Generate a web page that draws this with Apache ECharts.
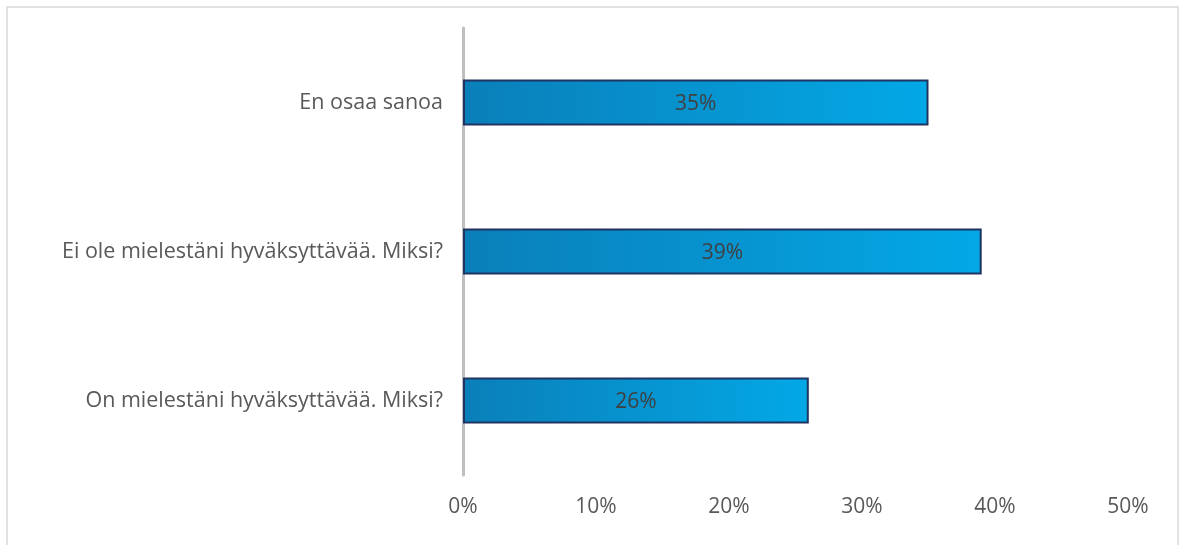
<!DOCTYPE html>
<html>
<head>
<meta charset="utf-8">
<script src="https://cdn.jsdelivr.net/npm/echarts@6/dist/echarts.min.js"></script>
<style>
  html, body { margin: 0; padding: 0; background: #fff; }
  #main { width: 1184px; height: 545px; }
</style>
</head>
<body>
<div id="main"></div>
<script>
// categories listed bottom to top
var categories = [
  'On mielestäni hyväksyttävää. Miksi?',
  'Ei ole mielestäni hyväksyttävää. Miksi?',
  'En osaa sanoa'
];
var shares = [26, 39, 35];
var tickValues = [0, 10, 20, 30, 40, 50];

var myChart = echarts.init(document.getElementById('main'));
var option = {
  animation: false,
  graphic: [{
    type: 'rect',
    shape: { x: 7, y: 7, width: 1171, height: 560 },
    style: { fill: 'none', stroke: '#d9d9d9', lineWidth: 1.5 },
    silent: true
  }],
  grid: { left: 463, right: 56, top: 28, bottom: 70, containLabel: false },
  xAxis: {
    type: 'value',
    min: 0,
    max: 50,
    interval: 10,
    axisLine: { show: false },
    axisTick: { show: false },
    splitLine: { show: false },
    axisLabel: {
      formatter: '{value}%',
      color: '#595959',
      fontFamily: 'Open Sans',
      fontSize: 21,
      margin: 22
    }
  },
  yAxis: {
    type: 'category',
    data: categories,
    axisLine: { show: true, lineStyle: { color: '#bfbfbf', width: 3 } },
    axisTick: { show: false },
    axisLabel: {
      color: '#595959',
      fontFamily: 'Open Sans',
      fontSize: 21.5,
      margin: 20
    }
  },
  series: [{
    type: 'bar',
    data: shares,
    barWidth: 46,
    itemStyle: {
      color: new echarts.graphic.LinearGradient(0, 0, 1, 0, [
        { offset: 0, color: '#0a7fb9' },
        { offset: 1, color: '#03a8e6' }
      ]),
      borderColor: '#1f3462',
      borderWidth: 2
    },
    label: {
      show: true,
      position: 'inside',
      offset: [0, 2],
      formatter: '{c}%',
      color: '#404040',
      fontFamily: 'Open Sans',
      fontSize: 21
    }
  }]
};
myChart.setOption(option);
</script>
</body>
</html>
